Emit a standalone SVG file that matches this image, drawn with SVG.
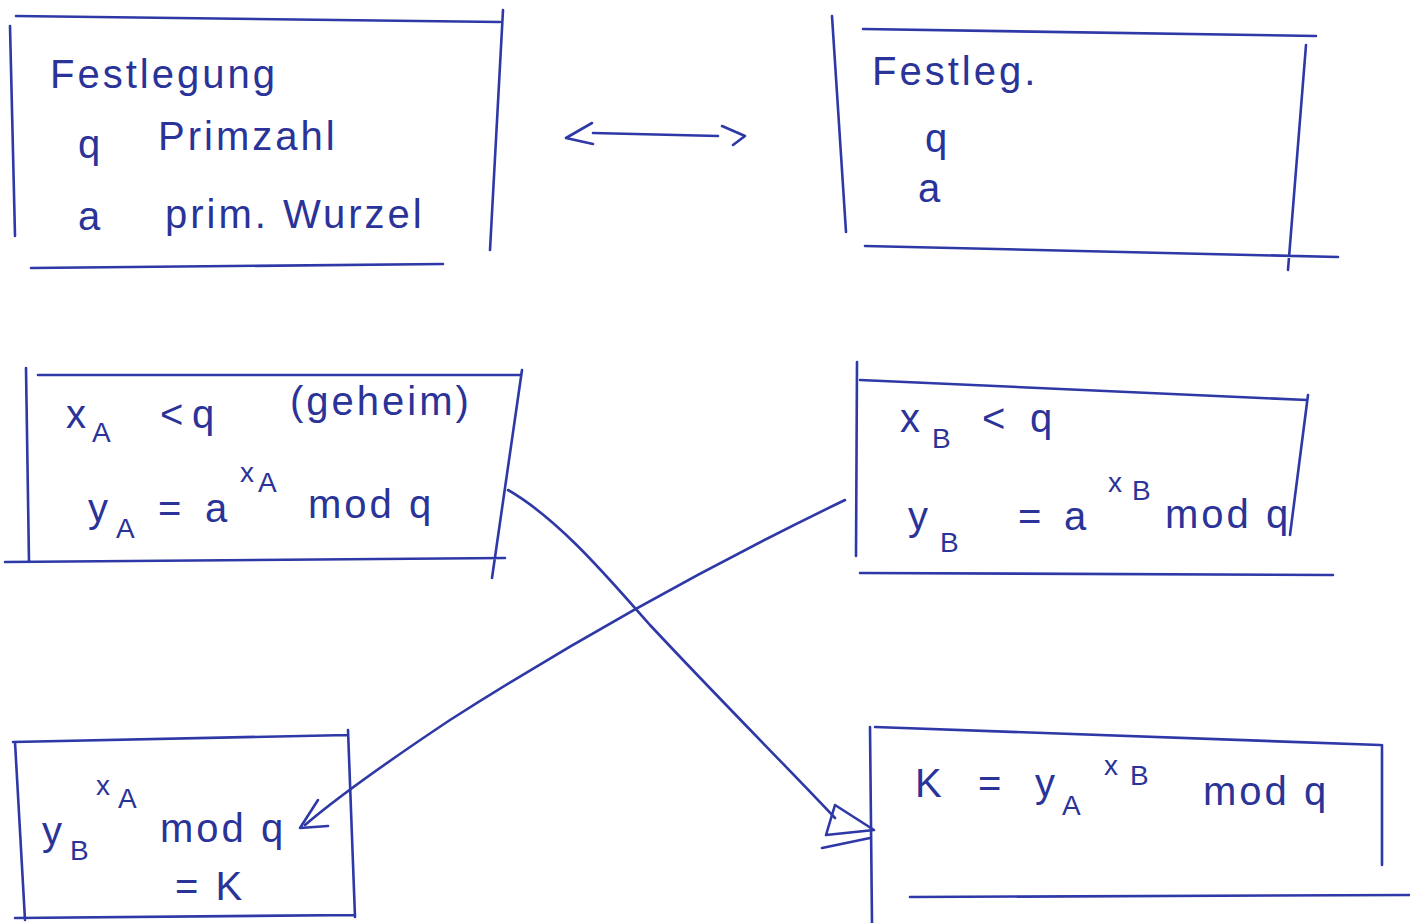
<svg xmlns="http://www.w3.org/2000/svg" width="1410" height="923" viewBox="0 0 1410 923">
<style>
.ink{fill:none;stroke:#2e38a6;stroke-width:2.6;stroke-linecap:round;stroke-linejoin:round}
.t{font-family:"Liberation Sans",Arial,sans-serif;fill:#2a3398;font-size:40px}
.s{font-size:28px}
.w{letter-spacing:3px}
</style>
<rect width="1410" height="923" fill="#ffffff"/>
<g id="node-festlegung-a">
<path class="ink" d="M16 16 L500 22 M10 26 L15 236 M503 10 L490 250 M31 268 L443 264"/>
<text class="t w" x="50" y="88">Festlegung</text>
<text class="t" x="78" y="158">q</text>
<text class="t w" x="158" y="150">Primzahl</text>
<text class="t" x="78" y="230">a</text>
<text class="t w" x="165" y="228">prim. Wurzel</text>
</g>
<g id="node-festlegung-b">
<path class="ink" d="M863 29 L1316 36 M832 16 L846 232 M1306 45 L1288 270 M865 246 L1338 257"/>
<text class="t w" x="872" y="85">Festleg.</text>
<text class="t" x="925" y="152">q</text>
<text class="t" x="918" y="202">a</text>
</g>
<g id="node-alice-secret">
<path class="ink" d="M38 375 L520 375 M26 368 L29 562 M522 370 L492 578 M5 562 L505 558"/>
<text class="t" x="66" y="428">x</text><text class="t s" x="92" y="442">A</text>
<text class="t" x="160" y="428">&lt;</text><text class="t" x="192" y="428">q</text>
<text class="t w" x="290" y="415">(geheim)</text>
<text class="t" x="88" y="522">y</text><text class="t s" x="116" y="538">A</text>
<text class="t" x="158" y="522">=</text><text class="t" x="205" y="522">a</text>
<text class="t s" x="240" y="482">x</text><text class="t s" x="258" y="492">A</text>
<text class="t w" x="308" y="518">mod q</text>
</g>
<g id="node-bob-secret">
<path class="ink" d="M860 380 L1307 400 M857 362 L856 556 M1308 395 L1290 535 M860 573 L1333 575"/>
<text class="t" x="900" y="432">x</text><text class="t s" x="932" y="448">B</text>
<text class="t" x="982" y="432">&lt;</text><text class="t" x="1030" y="432">q</text>
<text class="t" x="908" y="530">y</text><text class="t s" x="940" y="552">B</text>
<text class="t" x="1018" y="530">=</text><text class="t" x="1064" y="530">a</text>
<text class="t s" x="1108" y="492">x</text><text class="t s" x="1132" y="500">B</text>
<text class="t w" x="1165" y="528">mod q</text>
</g>
<g id="node-alice-key">
<path class="ink" d="M13 742 L348 735 M15 742 L25 920 M348 730 L355 917 M15 918 L355 915"/>
<text class="t" x="42" y="845">y</text><text class="t s" x="70" y="860">B</text>
<text class="t s" x="96" y="795">x</text><text class="t s" x="118" y="808">A</text>
<text class="t w" x="160" y="842">mod q</text>
<text class="t w" x="175" y="900">= K</text>
</g>
<g id="node-bob-key">
<path class="ink" d="M875 727 L1380 745 M870 727 L872 923 M1382 745 L1382 865 M910 897 L1410 895"/>
<text class="t" x="915" y="797">K</text><text class="t" x="978" y="797">=</text>
<text class="t" x="1035" y="797">y</text><text class="t s" x="1062" y="815">A</text>
<text class="t s" x="1104" y="775">x</text><text class="t s" x="1130" y="785">B</text>
<text class="t w" x="1203" y="805">mod q</text>
</g>
<g id="connectors">
<path class="ink" d="M593 133 L718 136 M592 123 L566 138 L593 144 M722 126 L745 136 L733 145"/>
<path class="ink" d="M508 490 C560 520 610 580 650 625 C720 700 790 770 835 818"/>
<path class="ink" d="M835 805 L874 830 L826 835 Z M822 848 L870 838"/>
<path class="ink" d="M845 500 C700 570 560 650 450 720 C390 760 340 795 305 825"/>
<path class="ink" d="M318 800 L300 828 L328 826"/>
</g>
</svg>
